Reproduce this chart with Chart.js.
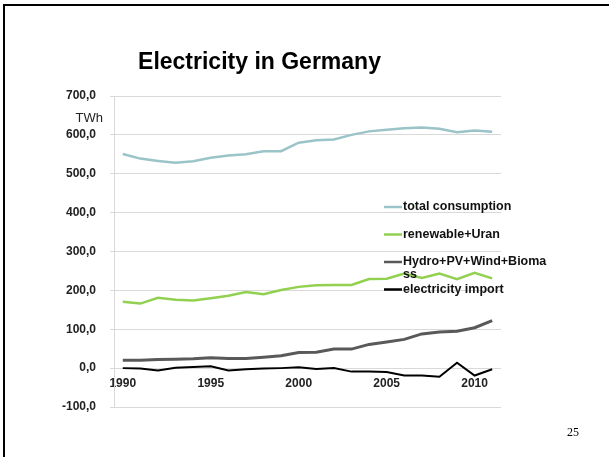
<!DOCTYPE html>
<html lang="en">
<head>
    <title>Electricity in Germany</title>
    <meta charset="utf-8">
    <script src="https://cdn.jsdelivr.net/npm/chart.js@4.4.1/dist/chart.umd.min.js"></script>
    <style>
        body { margin: 0; background: #fff; }
        #wrap { width: 609px; height: 457px; }
    </style>
</head>
<body>

<div id="wrap">
    <canvas id="line-chart" width="609" height="457"></canvas>
</div>

<script>
// data (TWh)
var years = ['1990','1991','1992','1993','1994','1995','1996','1997','1998','1999','2000',
             '2001','2002','2003','2004','2005','2006','2007','2008','2009','2010','2011'];
var totalConsumption = [551,539,533,528,532,541,547,550,558,558,580,586,588,600,609,613,617,619,616,607,611,608];
var renewableUran    = [171,166,181,176,174,180,186,196,190,201,209,213,214,214,229,230,243,232,243,229,245,231];
var hydroPvWindBio   = [20,20,22,23,24,27,25,25,28,32,40,41,49,49,61,67,74,88,93,95,104,122];
var electricityImport= [0,-1,-6,1,3,5,-6,-3,-1,0,2,-2,0,-9,-9,-10,-19,-19,-22,14,-19,-3];
var yTicks = [-100,0,100,200,300,400,500,600,700];

var names  = ['total consumption','renewable+Uran','Hydro+PV+Wind+Biomass','electricity import'];
var colors = ['#9ac4c8','#92d050','#595959','#000000'];
var widths = [2.5, 2.5, 3, 2];

var FONT = '"Liberation Sans", Arial, sans-serif';

var series = [totalConsumption, renewableUran, hydroPvWindBio, electricityImport];
var datasets = [];
for (var i = 0; i < series.length; i++) {
    datasets.push({
        label: names[i],
        data: series[i],
        borderColor: colors[i],
        backgroundColor: colors[i],
        borderWidth: widths[i],
        pointRadius: 0,
        tension: 0,
        fill: false
    });
}

// slide decorations + legend drawn by hand
var slidePlugin = {
    id: 'slide',
    afterDraw: function(chart) {
        var ctx = chart.ctx;
        ctx.save();
        // slide frame
        ctx.fillStyle = '#000';
        ctx.fillRect(3, 4, 606, 2);
        ctx.fillRect(3, 4, 2, 453);
        // title
        ctx.font = 'bold 23px ' + FONT;
        ctx.textAlign = 'center';
        ctx.textBaseline = 'middle';
        ctx.fillText('Electricity in Germany', 259.5, 63);
        // unit
        ctx.font = '13px ' + FONT;
        ctx.textAlign = 'right';
        ctx.fillStyle = '#222';
        ctx.fillText('TWh', 103, 118);
        // page number
        ctx.font = '12px "Liberation Serif", "Times New Roman", serif';
        ctx.textAlign = 'center';
        ctx.fillStyle = '#000';
        ctx.fillText('25', 573, 433);

        // legend
        ctx.font = 'bold 12.5px ' + FONT;
        ctx.textAlign = 'left';
        var x0 = 384, y0 = 207, step = 27.5, maxW = 150;
        chart.data.datasets.forEach(function(ds, k) {
            var y = y0 + k * step;
            ctx.strokeStyle = ds.borderColor;
            ctx.lineWidth = 2.5;
            ctx.beginPath();
            ctx.moveTo(x0, y);
            ctx.lineTo(x0 + 18, y);
            ctx.stroke();
            // wrap long labels by characters
            var lines = [], cur = '';
            for (var c = 0; c < ds.label.length; c++) {
                var t = cur + ds.label[c];
                if (ctx.measureText(t).width > maxW && cur) { lines.push(cur); cur = ds.label[c]; }
                else cur = t;
            }
            lines.push(cur);
            ctx.fillStyle = '#111';
            lines.forEach(function(l, j) {
                ctx.fillText(l, x0 + 19, y + j * 13);
            });
        });
        ctx.restore();
    }
};

new Chart(document.getElementById('line-chart'), {
    type: 'line',
    data: { labels: years, datasets: datasets },
    plugins: [slidePlugin],
    options: {
        responsive: false,
        animation: false,
        layout: { padding: { top: 96, bottom: 50, right: 108, left: 0 } },
        plugins: {
            legend: { display: false },
            title: { display: false },
            tooltip: { enabled: false }
        },
        scales: {
            x: {
                position: { y: 0 },
                offset: true,
                grid: { display: false, drawTicks: false },
                border: { display: false },
                ticks: {
                    autoSkip: false,
                    maxRotation: 0,
                    padding: 8,
                    color: '#222',
                    font: { family: FONT, size: 12, weight: 'bold' },
                    callback: function(v, idx) {
                        var yr = years[idx];
                        return (parseInt(yr) % 5 === 0) ? yr : '';
                    }
                }
            },
            y: {
                min: -100,
                max: 700,
                afterFit: function(scale) { scale.width = 114; },
                afterBuildTicks: function(scale) {
                    scale.ticks = yTicks.map(function(v) { return { value: v }; });
                },
                grid: { color: '#d9d9d9', lineWidth: 1, tickLength: 4 },
                border: { color: '#d9d9d9' },
                ticks: {
                    padding: 14,
                    color: '#222',
                    font: { family: FONT, size: 12, weight: 'bold' },
                    callback: function(v) { return v.toFixed(1).replace('.', ','); }
                }
            }
        }
    }
});
</script>
</body>
</html>
